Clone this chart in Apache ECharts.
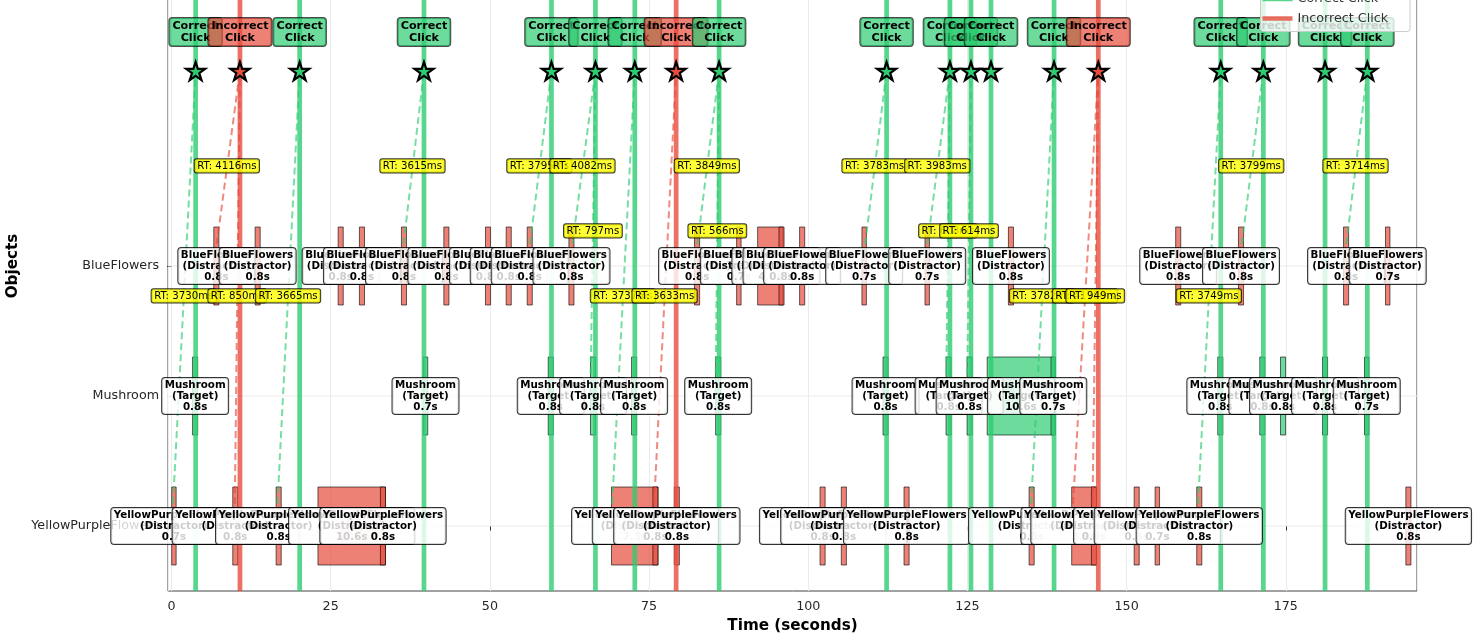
<!DOCTYPE html>
<html>
<head>
<meta charset="utf-8">
<script src="https://cdn.jsdelivr.net/npm/echarts@6/dist/echarts.min.js"></script>
<style>
html,body{margin:0;padding:0;background:#fff;}
#chart{width:1478px;height:643px;}
</style>
</head>
<body>
<div id="chart"></div>
<script>
// ---------------- data ----------------
const categories = ['YellowPurpleFlowers', 'Mushroom', 'BlueFlowers'];
const roles = ['Distractor', 'Target', 'Distractor'];
const xTicks = [0, 25, 50, 75, 100, 125, 150, 175];

// object appearances: [onset (s), duration (s)]
const yellowPurpleShown = [
  [0.03, 0.7], [9.62, 0.8], [16.43, 0.8], [23.0, 10.6], [32.81, 0.8], [69.1, 7.3],
  [75.6, 0.8], [78.96, 0.8], [101.85, 0.8], [105.19, 0.8], [115.04, 0.8], [134.68, 0.8],
  [141.37, 3.9], [144.47, 0.8], [151.18, 0.8], [154.47, 0.7], [161.01, 0.8], [193.85, 0.8]
];
const mushroomShown = [
  [3.31, 0.8], [39.54, 0.7], [59.16, 0.8], [65.8, 0.8], [72.25, 0.8], [85.45, 0.8],
  [111.74, 0.8], [121.64, 0.8], [124.94, 0.8], [128.1, 10.6], [138.13, 0.7], [164.31, 0.8],
  [170.91, 0.8], [174.16, 0.8], [180.76, 0.8], [187.36, 0.7]
];
const blueFlowersShown = [
  [6.64, 0.8], [13.13, 0.8], [26.17, 0.8], [29.51, 0.8], [36.11, 0.8], [42.77, 0.8],
  [49.31, 0.8], [52.56, 0.8], [55.86, 0.8], [62.41, 0.8], [82.14, 0.8], [88.75, 0.7],
  [92.05, 4.0], [95.4, 0.8], [98.64, 0.8], [108.43, 0.7], [118.33, 0.7], [131.43, 0.8],
  [157.7, 0.8], [167.56, 0.8], [184.06, 0.8], [190.65, 0.7]
];

// clicks
const clickTimes = [3.79, 10.75, 20.13, 39.65, 59.67, 66.58, 72.76, 79.25, 86.0, 112.3,
  122.25, 125.55, 128.7, 138.6, 145.55, 164.78, 171.47, 181.16, 187.8];
const clickCorrect = [1, 0, 1, 1, 1, 1, 1, 0, 1, 1, 1, 1, 1, 1, 0, 1, 1, 1, 1];

// reaction-time links: [click index, object row, RT (ms)]
const rtLinks = [
  [0, 0, 3730], [1, 2, 4116], [1, 0, 850], [2, 0, 3665], [3, 2, 3615], [4, 2, 3795],
  [5, 2, 4082], [5, 1, 797], [6, 0, 3737], [7, 0, 3633], [8, 2, 3849], [8, 1, 566],
  [9, 2, 3783], [10, 2, 3983], [10, 1, 608], [11, 1, 614], [13, 0, 3782], [14, 0, 4178],
  [14, 0, 949], [15, 0, 3749], [16, 2, 3799], [18, 2, 3714]
];

// ---------------- layout / style constants ----------------
const X_MIN = -0.55, X_MAX = 195.6, Y_MIN = -0.5, Y_MAX = 4.5;
const STAR_Y = 3.5, CLICK_LABEL_Y = 3.8, BAR_HALF = 0.3;
const GREEN = '46,204,113', RED = '231,76,60';
const FONT = 'DejaVu Sans';

const shownByRow = [yellowPurpleShown, mushroomShown, blueFlowersShown];
const objects = [];
shownByRow.forEach((arr, row) => arr.forEach(([s, d]) => objects.push({ row, s, d })));

const clicks = clickTimes.map((t, i) => ({ t, ok: clickCorrect[i] === 1 }));

const chart = echarts.init(document.getElementById('chart'), null, { renderer: 'canvas' });

const base = { type: 'custom', xAxisIndex: 0, yAxisIndex: 1, silent: true, clip: false, animation: false };

const option = {
  animation: false,
  backgroundColor: '#fff',
  grid: {
    left: 168, right: 61, top: -59, bottom: 52,
    show: true, borderColor: '#444', borderWidth: 1, backgroundColor: 'transparent',
    containLabel: false, outerBoundsMode: 'none'
  },
  legend: {
    z: 30,
    orient: 'vertical',
    right: 68, top: -13,
    padding: [5, 22, 6, 2],
    itemWidth: 30, itemHeight: 4.5, itemGap: 5.5,
    backgroundColor: 'rgba(255,255,255,0.8)',
    borderColor: '#cccccc', borderWidth: 1, borderRadius: 3,
    selectedMode: false,
    textStyle: { fontFamily: FONT, fontSize: 12.7, color: '#333', lineHeight: 14 },
    data: [
      { name: 'Correct Click', icon: 'rect', itemStyle: { color: 'rgba(' + GREEN + ',0.8)' } },
      { name: 'Incorrect Click', icon: 'rect', itemStyle: { color: 'rgba(' + RED + ',0.8)' } }
    ]
  },
  xAxis: [{
    type: 'value', min: X_MIN, max: X_MAX, minInterval: 25, maxInterval: 25,
    axisLine: { show: false },
    axisTick: { show: true, length: 4.5, lineStyle: { color: '#333', width: 1 } },
    axisLabel: {
      margin: 9, fontFamily: FONT, fontSize: 12.7, color: '#262626',
      formatter: v => (xTicks.indexOf(Math.round(v * 1000) / 1000) >= 0 ? String(Math.round(v)) : '')
    },
    splitLine: { show: true, lineStyle: { color: '#ebebeb', width: 1 } },
    name: 'Time (seconds)', nameLocation: 'middle', nameGap: 28,
    nameTextStyle: { fontFamily: FONT, fontWeight: 'bold', fontSize: 15.2, color: '#000' }
  }],
  yAxis: [{
    type: 'category', data: categories.concat([' ', '  ']), boundaryGap: true,
    axisLine: { show: false },
    axisTick: { show: true, alignWithLabel: true, length: 4.5, interval: (i) => i < categories.length, lineStyle: { color: '#333' } },
    axisLabel: { margin: 9, fontFamily: FONT, fontSize: 12.7, color: '#262626', interval: (i) => i < categories.length },
    splitLine: { show: false },
    name: 'Objects', nameLocation: 'middle', nameGap: 139, nameRotate: 90,
    nameTextStyle: { fontFamily: FONT, fontWeight: 'bold', fontSize: 15.2, color: '#000' }
  }, {
    type: 'value', min: Y_MIN, max: Y_MAX, show: false
  }],
  series: [
    // horizontal grid lines at category rows
    Object.assign({}, base, {
      z: 1,
      data: categories.map((c, i) => [X_MIN, i]),
      renderItem: (p, api) => {
        const r = api.value(1);
        const a = api.coord([X_MIN, r]), b = api.coord([X_MAX, r]);
        return { type: 'line', shape: { x1: a[0], y1: a[1], x2: b[0], y2: b[1] }, style: { stroke: '#ebebeb', lineWidth: 1 } };
      }
    }),
    // object bars
    Object.assign({}, base, {
      z: 2,
      data: objects.map(o => [o.s, o.s + o.d, o.row]),
      renderItem: (p, api) => {
        const s = api.value(0), e = api.value(1), r = api.value(2);
        const a = api.coord([s, r + BAR_HALF]), b = api.coord([e, r - BAR_HALF]);
        return {
          type: 'rect',
          shape: { x: a[0], y: a[1], width: b[0] - a[0], height: b[1] - a[1] },
          style: { fill: 'rgba(' + (roles[r] === 'Target' ? GREEN : RED) + ',0.7)', stroke: 'rgba(0,0,0,0.6)', lineWidth: 1 }
        };
      }
    }),
    // correct click lines
    Object.assign({}, base, {
      name: 'Correct Click', z: 3,
      itemStyle: { color: 'rgba(' + GREEN + ',0.8)' },
      data: clicks.filter(c => c.ok).map(c => [c.t]),
      renderItem: (p, api) => {
        const t = api.value(0);
        const a = api.coord([t, Y_MIN]), b = api.coord([t, Y_MAX]);
        return { type: 'line', shape: { x1: a[0], y1: a[1], x2: b[0], y2: b[1] }, style: { stroke: 'rgba(' + GREEN + ',0.8)', lineWidth: 4.7 } };
      }
    }),
    // incorrect click lines
    Object.assign({}, base, {
      name: 'Incorrect Click', z: 3,
      itemStyle: { color: 'rgba(' + RED + ',0.8)' },
      data: clicks.filter(c => !c.ok).map(c => [c.t]),
      renderItem: (p, api) => {
        const t = api.value(0);
        const a = api.coord([t, Y_MIN]), b = api.coord([t, Y_MAX]);
        return { type: 'line', shape: { x1: a[0], y1: a[1], x2: b[0], y2: b[1] }, style: { stroke: 'rgba(' + RED + ',0.8)', lineWidth: 4.7 } };
      }
    }),
    // dashed RT connection lines
    Object.assign({}, base, {
      z: 4,
      data: rtLinks.map(([ci, row, rt]) => [clicks[ci].t - rt / 1000, row, clicks[ci].t, clicks[ci].ok ? 1 : 0]),
      renderItem: (p, api) => {
        const a = api.coord([api.value(0), api.value(1)]);
        const b = api.coord([api.value(2), STAR_Y]);
        const col = api.value(3) ? GREEN : RED;
        return { type: 'line', shape: { x1: a[0], y1: a[1], x2: b[0], y2: b[1] }, style: { stroke: 'rgba(' + col + ',0.65)', lineWidth: 2, lineDash: [7, 4] } };
      }
    }),
    // object labels
    Object.assign({}, base, {
      z: 5,
      data: objects.map(o => [o.s + o.d / 2, o.row]),
      renderItem: (p, api) => {
        const o = objects[p.dataIndex];
        const c = api.coord([api.value(0), api.value(1)]);
        return {
          type: 'text', x: c[0], y: c[1],
          style: {
            text: categories[o.row] + '\n(' + roles[o.row] + ')\n' + o.d.toFixed(1) + 's',
            fill: '#000', fontFamily: FONT, fontWeight: 'bold', fontSize: 10.3, lineHeight: 11,
            align: 'center', verticalAlign: 'middle',
            backgroundColor: 'rgba(255,255,255,0.8)', borderColor: 'rgba(0,0,0,0.8)', borderWidth: 1,
            borderRadius: 3, padding: [1.5, 2.5]
          }
        };
      }
    }),
    // RT labels
    Object.assign({}, base, {
      z: 6,
      data: rtLinks.map(([ci, row, rt]) => [clicks[ci].t - rt / 2000, (row + STAR_Y) / 2 + 0.02]),
      renderItem: (p, api) => {
        const c = api.coord([api.value(0), api.value(1)]);
        return {
          type: 'text', x: c[0], y: c[1],
          style: {
            text: 'RT: ' + rtLinks[p.dataIndex][2] + 'ms',
            fill: '#000', fontFamily: FONT, fontSize: 10.2, lineHeight: 11,
            align: 'center', verticalAlign: 'middle',
            backgroundColor: 'rgba(255,255,0,0.8)', borderColor: 'rgba(0,0,0,0.8)', borderWidth: 1,
            borderRadius: 2, padding: [1.2, 2.5]
          }
        };
      }
    }),
    // stars
    Object.assign({}, base, {
      z: 7,
      data: clicks.map(c => [c.t, STAR_Y, c.ok ? 1 : 0]),
      renderItem: (p, api) => {
        const c = api.coord([api.value(0), api.value(1)]);
        const R = 10, r = R * 0.382;
        const pts = [];
        for (let k = 0; k < 10; k++) {
          const ang = -Math.PI / 2 + k * Math.PI / 5;
          const rad = k % 2 === 0 ? R : r;
          pts.push([c[0] + rad * Math.cos(ang), c[1] + 1 + rad * Math.sin(ang)]);
        }
        return { type: 'polygon', shape: { points: pts }, style: { fill: 'rgb(' + (api.value(2) ? GREEN : RED) + ')', stroke: '#000', lineWidth: 2.2, lineJoin: 'miter' } };
      }
    }),
    // click labels
    Object.assign({}, base, {
      z: 8,
      data: clicks.map(c => [c.t, CLICK_LABEL_Y, c.ok ? 1 : 0]),
      renderItem: (p, api) => {
        const c = api.coord([api.value(0), api.value(1)]);
        const ok = api.value(2);
        return {
          type: 'text', x: c[0], y: c[1],
          style: {
            text: (ok ? 'Correct' : 'Incorrect') + '\nClick',
            fill: '#000', fontFamily: FONT, fontWeight: 'bold', fontSize: 11.2, lineHeight: 12,
            align: 'center', verticalAlign: 'middle',
            backgroundColor: 'rgba(' + (ok ? GREEN : RED) + ',0.7)', borderColor: 'rgba(0,0,0,0.7)', borderWidth: 1,
            borderRadius: 3, padding: [2, 3]
          }
        };
      }
    })
  ]
};

chart.setOption(option);
</script>
</body>
</html>
